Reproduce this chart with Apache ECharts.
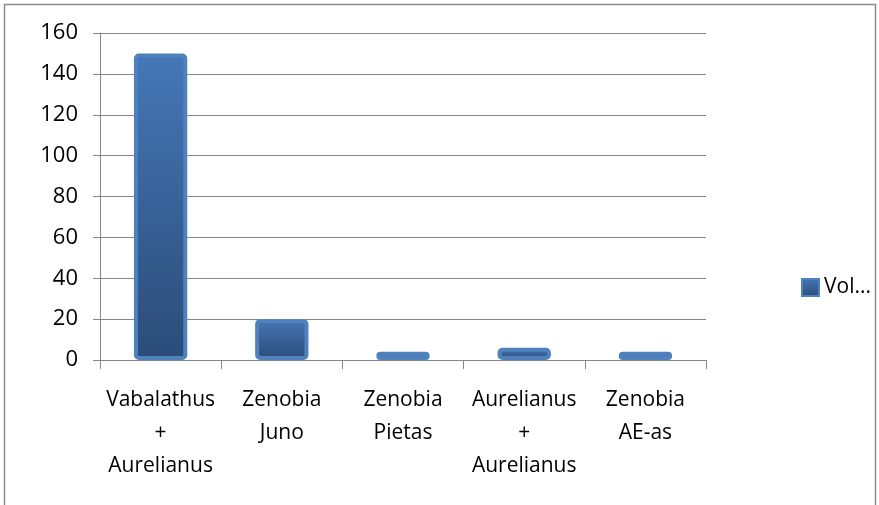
<!DOCTYPE html>
<html>
<head>
<meta charset="utf-8">
<script src="https://cdn.jsdelivr.net/npm/echarts@6/dist/echarts.min.js"></script>
<style>
  html, body { margin: 0; padding: 0; background: #fff; }
  #chart { width: 879px; height: 505px; }
</style>
</head>
<body>
<div id="chart"></div>
<script>
var categories = ['Vabalathus\n+\nAurelianus', 'Zenobia\nJuno', 'Zenobia\nPietas', 'Aurelianus\n+\nAurelianus', 'Zenobia\nAE-as'];
var volumes = [150, 20, 4, 6, 4];
var seriesName = 'Vol...';

var chart = echarts.init(document.getElementById('chart'));

var barFill = new echarts.graphic.LinearGradient(0, 0, 0, 1, [
  { offset: 0, color: '#4677b8' },
  { offset: 1, color: '#2b4c78' }
]);

var option = {
  animation: false,
  textStyle: { fontFamily: 'Open Sans', color: '#000' },
  graphic: [{
    type: 'rect',
    shape: { x: 4.5, y: 4.5, width: 871, height: 520 },
    style: { fill: 'none', stroke: '#8c8c8c', lineWidth: 1.5 },
    silent: true
  }],
  legend: {
    data: [seriesName],
    left: 796,
    top: 272,
    itemWidth: 17,
    itemHeight: 17,
    itemGap: 4,
    textStyle: { fontSize: 21, fontFamily: 'Open Sans', color: '#000' },
    icon: 'rect'
  },
  grid: { left: 100, right: 173, top: 33, bottom: 145 },
  xAxis: {
    type: 'category',
    data: categories,
    axisLine: { lineStyle: { color: '#868686', width: 1 } },
    axisTick: { show: true, length: 9, lineStyle: { color: '#868686' } },
    axisLabel: { fontSize: 21, lineHeight: 33, margin: 24, color: '#000', interval: 0 }
  },
  yAxis: {
    type: 'value',
    min: 0,
    max: 160,
    interval: 20,
    axisLine: { show: true, lineStyle: { color: '#868686', width: 1 } },
    axisTick: { show: true, length: 7, lineStyle: { color: '#868686' } },
    splitLine: { lineStyle: { color: '#868686', width: 1 } },
    axisLabel: { fontSize: 22, margin: 22, color: '#000' }
  },
  series: [{
    name: seriesName,
    type: 'bar',
    data: volumes,
    barWidth: '44%',
    itemStyle: {
      color: barFill,
      borderColor: '#4f81bd',
      borderWidth: 4,
      borderRadius: 3
    }
  }]
};

chart.setOption(option);
</script>
</body>
</html>
